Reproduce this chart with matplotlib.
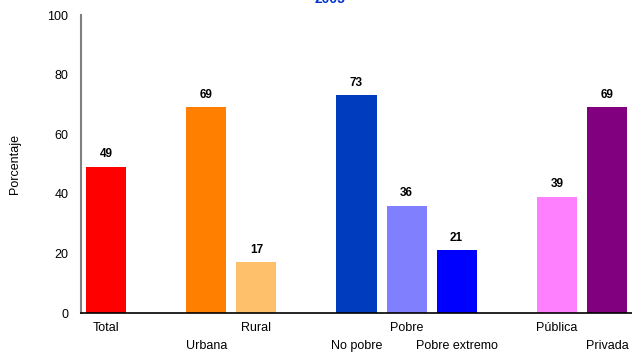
import matplotlib
matplotlib.use("Agg")
import matplotlib.pyplot as plt

categories = ["Total", "Urbana", "Rural", "No pobre", "Pobre", "Pobre extremo", "Pública", "Privada"]
positions = [0, 2, 3, 5, 6, 7, 9, 10]
values = [49, 69, 17, 73, 36, 21, 39, 69]
colors = ["#FF0000", "#FF8000", "#FFC06C", "#003CBE", "#8080FF", "#0000FF", "#FF80FF", "#800080"]
yticks = [0, 20, 40, 60, 80, 100]
title = "2005"

plt.rcParams["font.family"] = ["Liberation Sans", "DejaVu Sans"]

fig = plt.figure(figsize=(6.32, 3.56), dpi=100)
ax = fig.add_axes([81 / 632, 1 - 313 / 356, (632 - 81) / 632, (313 - 15) / 356])

ax.bar(positions, values, width=0.8, color=colors, zorder=2)
for x, v in zip(positions, values):
    ax.text(x, v + 2.2, f"{v}", ha="center", va="bottom", fontsize=8.5, fontweight="bold")

ax.set_xlim(-0.5, 10.5)
ax.set_ylim(0, 100)
ax.set_yticks(yticks)
ax.set_yticklabels([str(t) for t in yticks], fontsize=9)
ax.tick_params(axis="y", length=0, pad=9)
ax.tick_params(axis="x", length=0)
ax.set_xticks([])

# staggered category labels on two rows
for i, (x, lab) in enumerate(zip(positions, categories)):
    y = -5.0 if i % 2 == 0 else -11.0
    ax.text(x, y, lab, ha="center", va="center", fontsize=9, clip_on=False)

ax.set_ylabel("Porcentaje", fontsize=9)
ax.yaxis.set_label_coords((21 - 81) / 551, 0.5)

for side in ["top", "right"]:
    ax.spines[side].set_visible(False)
ax.spines["left"].set_color("#808080")
ax.spines["left"].set_linewidth(1.5)
ax.spines["bottom"].set_color("black")
ax.spines["bottom"].set_linewidth(1.2)

fig.text(330 / 632, 1 - (-1) / 356, title, ha="center", va="center",
         fontsize=10, fontweight="bold", color="#0033CC")

fig.savefig("out.png", dpi=100)
